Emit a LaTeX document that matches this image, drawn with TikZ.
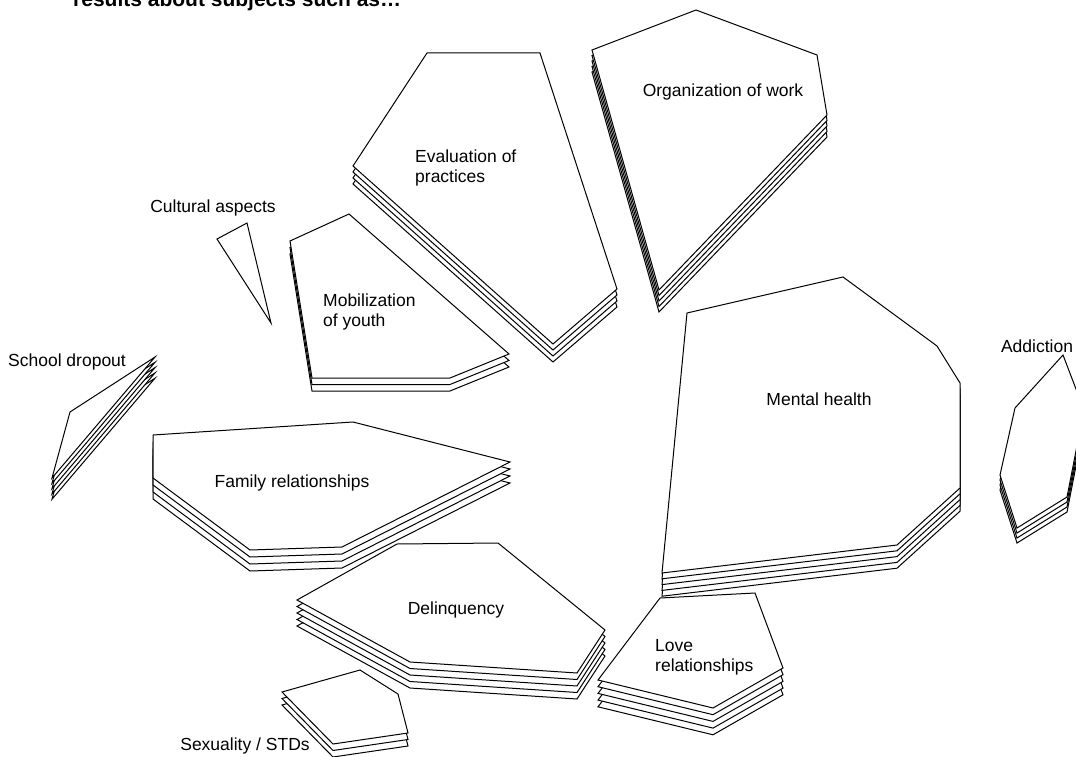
\documentclass[tikz,border=0pt]{standalone}
\usepackage{fontspec}
\setmainfont{Liberation Sans}
\newcommand\stackshape[3]{\foreach \k in {#1,...,0}{\draw[layer,yshift={-\k*#2}] #3 -- cycle;}}
\begin{document}
\begin{tikzpicture}[x=1pt,y=-1pt,
  layer/.style={draw=black,fill=white,line width=1pt,line join=miter},
  lbl/.style={font=\fontsize{17.5}{20}\selectfont,inner sep=0pt},
  ttl/.style={font=\fontsize{21}{24}\selectfont\bfseries,inner sep=0pt,anchor=base west}]
\fill[white] (0,0) rectangle (1076,757);
\useasboundingbox (0,0) rectangle (1076,757);
% Evaluation of practices
\stackshape{3}{6}{(427,53) -- (540,53) -- (617,289) -- (553,344) -- (353,166)}
% Organization of work
\stackshape{4}{5.5}{(592,50) -- (696,10) -- (817,55) -- (827,115) -- (659,290)}
% Cultural aspects
\stackshape{0}{5}{(217,239) -- (247,223) -- (271,323)}
% Mobilization of youth
\stackshape{2}{6.5}{(290,241) -- (349,214) -- (509,354) -- (450,378) -- (312,378)}
% School dropout
\stackshape{4}{5.3}{(155,357) -- (70,412) -- (52,478)}
% Family relationships
\stackshape{3}{7}{(153,435) -- (353,422) -- (510,462) -- (342,547) -- (250,550) -- (153,478)}
% Sexuality / STDs
\stackshape{2}{6.5}{(282,692) -- (360,670) -- (398,694) -- (408,733) -- (333,744)}
% Delinquency
\stackshape{4}{6.5}{(297,600) -- (397,544) -- (498,543) -- (605,630) -- (577,673) -- (410,662)}
% Mental health
\stackshape{4}{5.8}{(687,313) -- (843,277) -- (937,346) -- (960,383) -- (960,488) -- (897,545) -- (662,573)}
% Love relationships
\stackshape{4}{6.7}{(598,680) -- (660,598) -- (755,593) -- (783,668) -- (713,708)}
% Addiction
\stackshape{3}{5}{(1063,355) -- (1084,410) -- (1067,497) -- (1017,528) -- (1000,475) -- (1015,408)}
% labels
\node[ttl] (title) at (73,7) {results about subjects such as…};
\node[lbl] (cult) at (213,208) {Cultural aspects};
\node[lbl,align=left,anchor=west] (eval) at (415,168) {Evaluation of\\practices};
\node[lbl] (org) at (723,92) {Organization of work};
\node[lbl,align=left,anchor=west] (mob) at (323,312) {Mobilization\\of youth};
\node[lbl] (school) at (67,362) {School dropout};
\node[lbl] (fam) at (292,483) {Family relationships};
\node[lbl] (mental) at (819,399) {Mental health};
\node[lbl] (addict) at (1037,346) {Addiction};
\node[lbl] (delin) at (456,610) {Delinquency};
\node[lbl,align=left,anchor=west] (love) at (655,657) {Love\\relationships};
\node[lbl] (sex) at (245,746) {Sexuality / STDs};
\end{tikzpicture}
\end{document}
